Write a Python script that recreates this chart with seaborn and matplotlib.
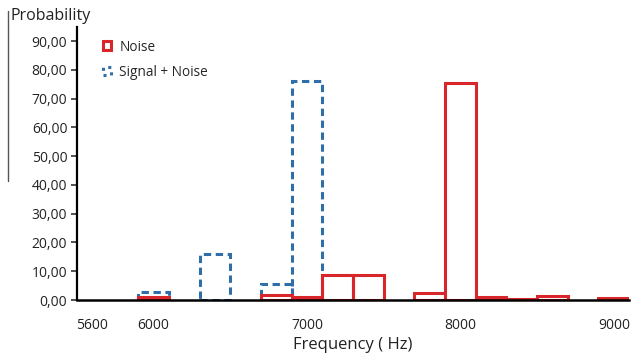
import matplotlib
matplotlib.use("Agg")
import matplotlib.pyplot as plt
from matplotlib.lines import Line2D
from matplotlib.patches import Patch
import seaborn as sns
import pandas as pd
import numpy as np

freqs = [5600, 5800, 6000, 6200, 6400, 6600, 6800, 7000, 7200,
         7400, 7600, 7800, 8000, 8200, 8400, 8600, 8800, 9000]
noise = [0, 0, 1.2, 0, 0, 0, 1.8, 0.9, 8.7,
         8.7, 0, 2.3, 75.4, 0.9, 0.5, 1.4, 0, 0.6]
signal_noise = [0, 0, 2.9, 0, 15.9, 0, 5.6, 76.1, 0,
                0, 0, 0, 0, 0, 0, 0, 0, 0]
labelled = [5600, 6000, 7000, 8000, 9000]
yticks = [0, 10, 20, 30, 40, 50, 60, 70, 80, 90]

red = "#d9262b"
blue = "#2f6ea8"
font = ["Open Sans", "DejaVu Sans"]

sns.set_style("white")
plt.rcParams["font.family"] = font

cats = [str(f) for f in freqs]
df_s = pd.DataFrame({"freq": cats, "prob": signal_noise})
df_n = pd.DataFrame({"freq": cats, "prob": noise})

fig = plt.figure(figsize=(6.31, 3.54), dpi=100)
ax = fig.add_axes([0.122, 0.1525, 0.875, 0.772])

sns.barplot(data=df_s, x="freq", y="prob", order=cats, color=blue,
            fill=False, width=1, linewidth=2.2, linestyle=(0, (2.4, 1.5)),
            ax=ax, errorbar=None)
sns.barplot(data=df_n, x="freq", y="prob", order=cats, color=red,
            fill=False, width=1, linewidth=2.2, ax=ax, errorbar=None)
for p in ax.patches:
    if p.get_height() == 0:
        p.set_visible(False)

ax.set_xlim(-0.5, len(cats) - 0.5)
ax.set_ylim(0, 95)
ax.set_yticks(yticks)
ax.set_yticklabels([f"{v:.2f}".replace(".", ",") for v in yticks], fontsize=10, color="#222222")

pos = [cats.index(str(f)) for f in labelled]
ax.set_xticks(pos)
ax.set_xticklabels([str(f) for f in labelled], fontsize=10, color="#222222")
ax.tick_params(axis="x", which="major", length=0, pad=13)
ax.set_xticks(np.arange(-0.5, len(cats), 1.0), minor=True)
ax.tick_params(axis="x", which="minor", length=5, direction="inout", color="#888888", width=1.2)
ax.tick_params(axis="y", length=4, direction="out", color="#333333", width=1.2, pad=3, left=True)

for s in ["top", "right"]:
    ax.spines[s].set_visible(False)
ax.spines["left"].set_color("black")
ax.spines["left"].set_linewidth(1.6)
ax.spines["bottom"].set_color("black")
ax.spines["bottom"].set_linewidth(1.8)
ax.spines["bottom"].set_zorder(3)

ax.set_xlabel("Frequency ( Hz)", fontsize=12, color="#222222")
ax.xaxis.set_label_coords(0.5, -0.135)
ax.set_ylabel("")

fig.text(0.016, 0.955, "Probability", fontsize=11.5, color="#222222", ha="left", va="center")
fig.add_artist(Line2D([0.013, 0.013], [0.49, 0.97], color="#555555", lw=1.0))

handles = [Patch(facecolor="white", edgecolor=red, linewidth=2.2),
           Patch(facecolor="white", edgecolor=blue, linewidth=2.2, linestyle=":")]
ax.legend(handles, ["Noise", "Signal + Noise"], loc="upper left",
          bbox_to_anchor=(0.025, 0.998), frameon=False, fontsize=9.8,
          handlelength=0.6, handleheight=0.6, handletextpad=0.6, labelspacing=0.75)

fig.savefig("out.png", dpi=100, facecolor="white")
